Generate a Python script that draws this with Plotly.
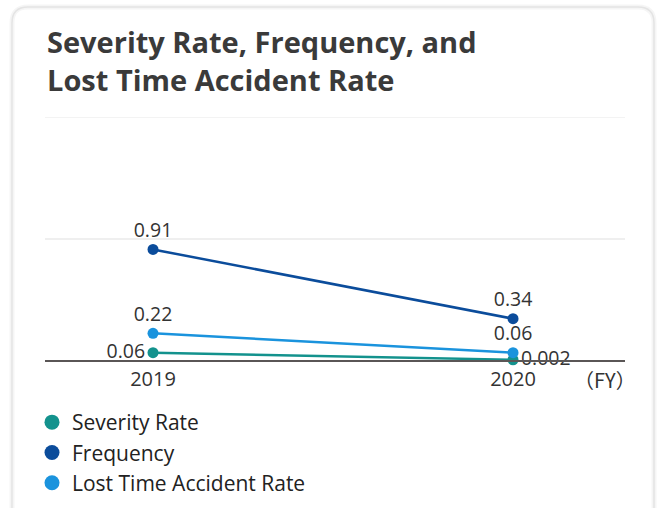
import plotly.graph_objects as go

# Fiscal years and safety indicators
years = ["2019", "2020"]
severity_rate = [0.06, 0.002]
frequency = [0.91, 0.34]
lost_time_rate = [0.22, 0.06]

severity_labels = ["0.06", "0.002"]
frequency_labels = ["0.91", "0.34"]
lost_time_labels = ["0.22", "0.06"]

W, H = 660, 508
L, R, T, B = 45, 35, 117, 148
PW, PH = W - L - R, H - T - B

FONT = "Open Sans, Noto Sans, Noto Sans CJK JP, sans-serif"
TEXT = "#333333"


def px_to_paper(x, y):
    return (x - L) / PW, (H - B - y) / PH


def rounded_card(x0, y0, x1, y1, r):
    def P(x, y):
        px, py = px_to_paper(x, y)
        return f"{px:.5f},{py:.5f}"
    return " ".join([
        f"M {P(x0 + r, y0)}", f"L {P(x1 - r, y0)}",
        f"Q {P(x1, y0)} {P(x1, y0 + r)}", f"L {P(x1, y1 - r)}",
        f"Q {P(x1, y1)} {P(x1 - r, y1)}", f"L {P(x0 + r, y1)}",
        f"Q {P(x0, y1)} {P(x0, y1 - r)}", f"L {P(x0, y0 + r)}",
        f"Q {P(x0, y0)} {P(x0 + r, y0)} Z",
    ])


fig = go.Figure()

series = [
    ("Severity Rate", severity_rate, severity_labels, "#13928d", ["middle left", "middle right"]),
    ("Frequency", frequency, frequency_labels, "#0b4c9b", ["top center", "top center"]),
    ("Lost Time Accident Rate", lost_time_rate, lost_time_labels, "#1a93dd", ["top center", "top center"]),
]

for name, vals, labels, color, pos in series:
    fig.add_trace(go.Scatter(
        x=years, y=vals, name=name, mode="lines+markers+text",
        line=dict(color=color, width=2.5),
        marker=dict(color=color, size=11),
        text=labels, textposition=pos,
        textfont=dict(family=FONT, size=19.5, color=TEXT),
        cliponaxis=False, showlegend=False,
    ))

# Legend entries shown as plain dots
for name, vals, labels, color, pos in series:
    fig.add_trace(go.Scatter(
        x=[None], y=[None], name=name, mode="markers",
        marker=dict(color=color, size=15),
    ))

card_path = rounded_card(12, 7, 654, 530, 16)
fig.add_shape(type="path", path=card_path, xref="paper", yref="paper",
              line=dict(color="rgba(0,0,0,0.04)", width=5), layer="below")
fig.add_shape(type="path", path=card_path, xref="paper", yref="paper",
              line=dict(color="#e4e4e4", width=1.5), layer="below")

# Top gridline (y = 2) doubling as the title divider
fig.add_shape(type="line", xref="paper", yref="y", x0=0, x1=1, y0=2, y1=2,
              line=dict(color="#efefef", width=1.5), layer="below")

tx, ty = px_to_paper(45, 20)
fig.add_annotation(
    text="<b>Severity Rate, Frequency, and<br>Lost Time Accident Rate</b>",
    xref="paper", yref="paper", x=tx, y=ty, xanchor="left", yanchor="top",
    align="left", showarrow=False,
    font=dict(family=FONT, size=29, color="#3a3a3a"),
)

fx, fy = px_to_paper(605, 379)
fig.add_annotation(
    text="（FY）", xref="paper", yref="paper", x=fx, y=fy,
    xanchor="center", yanchor="middle", showarrow=False,
    font=dict(family="Noto Sans CJK JP, Noto Sans CJK SC, sans-serif", size=20, color=TEXT),
)

lx, ly = px_to_paper(32, 402)
fig.update_layout(
    width=W, height=H,
    margin=dict(l=L, r=R, t=T, b=B, autoexpand=False),
    paper_bgcolor="white", plot_bgcolor="white",
    font=dict(family=FONT, color=TEXT),
    showlegend=True,
    legend=dict(
        x=lx, y=ly, xanchor="left", yanchor="top",
        font=dict(family=FONT, size=21, color="#222222"),
        itemsizing="trace", tracegroupgap=0,
        bgcolor="rgba(0,0,0,0)",
    ),
    xaxis=dict(
        type="category", range=[-0.3, 1.311],
        showline=True, linecolor="#5a5656", linewidth=2,
        showgrid=False, ticks="",
        tickfont=dict(family=FONT, size=20, color=TEXT),
    ),
    yaxis=dict(
        range=[0, 2], tickvals=[1], showticklabels=False,
        showgrid=True, gridcolor="#efefef", gridwidth=1.5,
        zeroline=False, showline=False,
    ),
)

fig.write_html("out.html")
